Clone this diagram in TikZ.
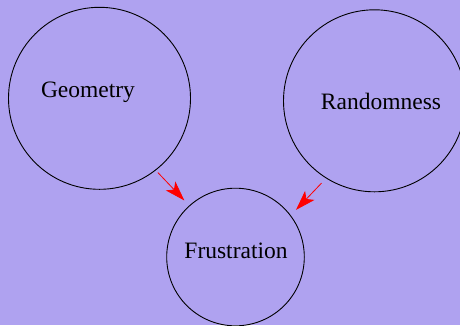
\documentclass[tikz,border=0pt]{standalone}
\usepackage{fontspec}
\setmainfont{Liberation Serif}
\usetikzlibrary{arrows.meta}
\definecolor{bgviolet}{RGB}{175,162,240}
\begin{document}
\begin{tikzpicture}[x=1pt,y=-1pt,
  ring/.style={draw=black, line width=0.9pt, circle, inner sep=0pt},
  lbl/.style={font=\fontsize{23.5}{28}\selectfont, inner sep=0pt, anchor=center},
  link/.style={draw=red, line width=0.8pt, -{Stealth[length=20pt,width=13pt,inset=5pt]}}]
  \fill[bgviolet] (0,0) rectangle (460,325);
  \useasboundingbox (0,0) rectangle (460,325);
  \node[ring, minimum size=182pt] (geo) at (99.5,98.3) {};
  \node[ring, minimum size=182pt] (ran) at (374.5,100.8) {};
  \node[ring, minimum size=137.6pt] (fru) at (235.5,257) {};
  \node[lbl] (geot) at (88,92) {Geometry};
  \node[lbl] (rant) at (381,101) {Randomness};
  \node[lbl] (frut) at (236,251) {Frustration};
  \draw[link, shorten <=3pt, shorten >=7pt] (geo.-52.6) -- (fru.132.6);
  \draw[link, shorten <=6.5pt, shorten >=7.5pt] (ran.-122.3) -- (fru.37.8);
\end{tikzpicture}
\end{document}
